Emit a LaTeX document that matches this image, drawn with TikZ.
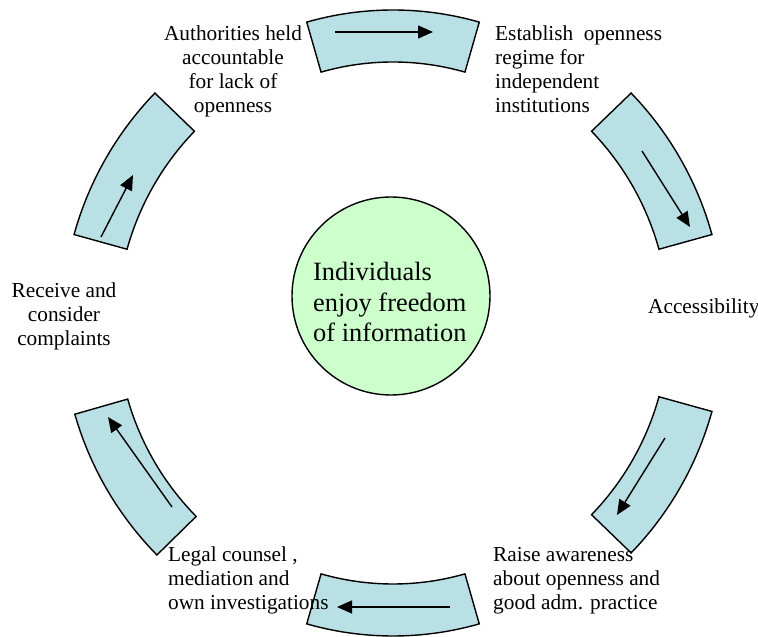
\documentclass[tikz,border=0pt]{standalone}
\usepackage{fontspec}
\setmainfont{Liberation Serif}
\usetikzlibrary{arrows.meta,calc}
\definecolor{segfill}{RGB}{185,224,228}
\definecolor{hubfill}{RGB}{204,255,204}
\newcommand{\ringseg}[4]{%
  \draw[segment] ($(O)+(#1:#4)$) arc[start angle=#1,end angle=#2,radius=#4]
    -- ($(O)+(#2:#3)$) arc[start angle=#2,end angle=#1,radius=#3] -- cycle;}
\begin{document}
\begin{tikzpicture}[x=1pt,y=1pt,
  segment/.style={draw=black,line width=1.4pt,fill=segfill,line join=miter},
  flow/.style={draw=black,line width=1.4pt,-{Triangle[length=15pt,width=13pt]}},
  lbl/.style={inner sep=0pt,font=\fontsize{21.3}{24}\selectfont},
  hubtxt/.style={inner sep=0pt,font=\fontsize{26.4}{30.5}\selectfont}]
\useasboundingbox (0,0) rectangle (758,637);
\coordinate (O) at (393,314);
% ring segments
\ringseg{74}{106}{261}{313}
\ringseg{15.5}{44}{276}{331}
\ringseg{-44}{-15.5}{276}{331}
\ringseg{-106}{-74}{261}{313}
\ringseg{196}{224.5}{276}{331}
\ringseg{136}{164.5}{276}{331}
% arrows inside segments
\coordinate (a1s) at (335,605); \coordinate (a1e) at (433,605);
\coordinate (a2s) at (642,486); \coordinate (a2e) at (690,410);
\coordinate (a3s) at (665,199); \coordinate (a3e) at (617,122);
\coordinate (a4s) at (450,30);  \coordinate (a4e) at (337,30);
\coordinate (a5s) at (172,130); \coordinate (a5e) at (108,220);
\coordinate (a6s) at (101,400); \coordinate (a6e) at (133,462);
\draw[flow] (a1s) -- (a1e);
\draw[flow] (a2s) -- (a2e);
\draw[flow] (a3s) -- (a3e);
\draw[flow] (a4s) -- (a4e);
\draw[flow] (a5s) -- (a5e);
\draw[flow] (a6s) -- (a6e);
% hub
\node[circle,draw=black,line width=1.4pt,fill=hubfill,minimum size=198pt,inner sep=0pt] (hub) at (391,341) {};
\node[hubtxt,anchor=base west] (hubt) at (313,356)
  {\begin{tabular}[t]{@{}l@{}}Individuals\\enjoy freedom\\of information\end{tabular}};
% labels
\node[lbl,anchor=base] (l1) at (233,596)
  {\begin{tabular}[t]{@{}c@{}}Authorities held\\accountable\\for lack of\\openness\end{tabular}};
\node[lbl,anchor=base west] (l2) at (495,596)
  {\begin{tabular}[t]{@{}l@{}}Establish\ \ openness\\regime for\\independent\\institutions\end{tabular}};
\node[lbl,anchor=base west] (l3) at (648,323) {Accessibility};
\node[lbl,anchor=base west] (l4) at (493,75)
  {\begin{tabular}[t]{@{}l@{}}Raise awareness\\about openness and\\good adm. practice\end{tabular}};
\node[lbl,anchor=base west] (l5) at (168,75)
  {\begin{tabular}[t]{@{}l@{}}Legal counsel ,\\mediation and\\own investigations\end{tabular}};
\node[lbl,anchor=base] (l6) at (64,339)
  {\begin{tabular}[t]{@{}c@{}}Receive and\\consider\\complaints\end{tabular}};
\end{tikzpicture}
\end{document}
